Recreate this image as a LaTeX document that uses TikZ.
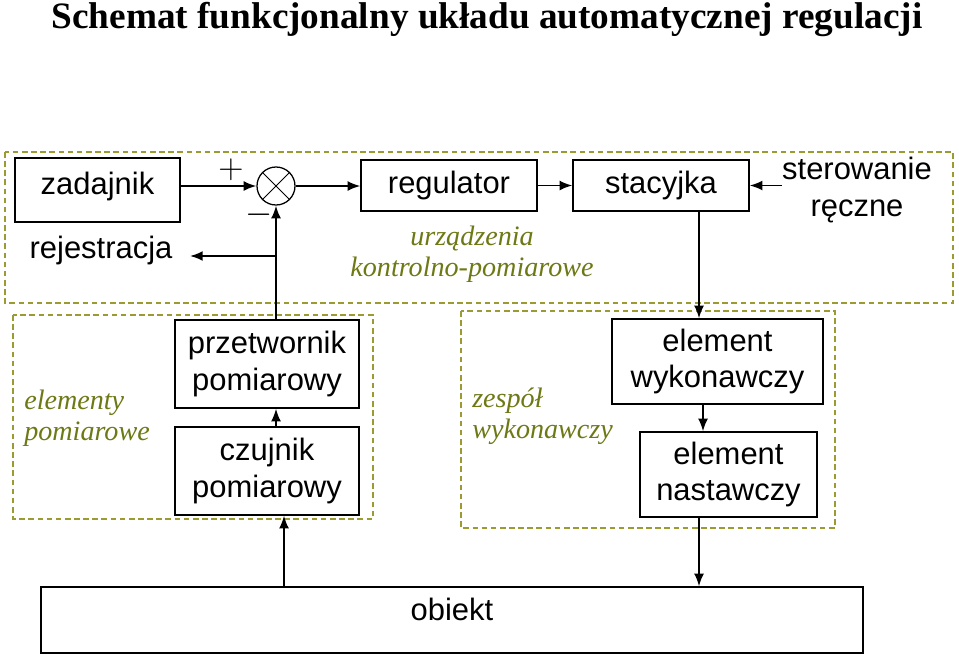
\documentclass[tikz,border=0pt]{standalone}
\usepackage{fontspec}
\setmainfont{Liberation Serif}
\setsansfont{Liberation Sans}
\usetikzlibrary{arrows.meta}

\definecolor{oliwka}{RGB}{155,155,50}
\definecolor{oliwkatxt}{RGB}{110,120,20}

\begin{document}
\begin{tikzpicture}[x=0.025cm, y=-0.025cm,
    blok/.style={draw, line width=0.9pt, font=\sffamily\fontsize{22}{26}\selectfont, align=center, inner sep=0pt},
    grupa/.style={draw=oliwka, line width=0.9pt, dash pattern=on 4pt off 2.5pt},
    opis/.style={text=oliwkatxt, font=\itshape\fontsize{20}{22}\selectfont, inner sep=0pt},
    strz/.style={line width=1.3pt, -{Latex[length=9pt,width=7pt]}}]

    \useasboundingbox (0,0) rectangle (959,658);

    % tytul
    \node (tytul) at (487,19) {\bfseries\fontsize{26.5}{30}\selectfont Schemat funkcjonalny układu automatycznej regulacji};

    % grupy (ramki przerywane)
    \draw[grupa] (5,152) rectangle (953,303);
    \draw[grupa] (13,315) rectangle (373,519);
    \draw[grupa] (461,311) rectangle (835,528);
    \node[opis, align=center] (urz) at (472,254) {urządzenia\\kontrolno-pomiarowe};
    \node[opis, align=left, anchor=west] (elp) at (24,418) {elementy\\pomiarowe};
    \node[opis, align=left, anchor=west] (zes) at (472,416) {zespół\\wykonawczy};

    % bloki
    \node[blok, minimum width=4.125cm, minimum height=1.6cm, text depth=0.35cm] (zad) at (97.5,190) {zadajnik};
    \node[blok, minimum width=4.4cm, minimum height=1.275cm] (reg) at (449,185.5) {regulator};
    \node[blok, minimum width=4.4cm, minimum height=1.275cm] (stac) at (661,185.5) {stacyjka};
    \node[blok, minimum width=4.6cm, minimum height=2.2cm] (przet) at (267,364) {przetwornik\\pomiarowy};
    \node[blok, minimum width=4.6cm, minimum height=2.2cm] (czuj) at (267,471) {czujnik\\pomiarowy};
    \node[blok, minimum width=5.275cm, minimum height=2.125cm] (wyk) at (717.5,361.5) {element\\wykonawczy};
    \node[blok, minimum width=4.425cm, minimum height=2.125cm] (nast) at (728.5,474.5) {element\\nastawczy};
    \node[blok, minimum width=20.55cm, minimum height=1.65cm, text depth=0.55cm] (obiekt) at (452,620) {obiekt};

    % teksty bez ramek
    \node[font=\sffamily\fontsize{22}{26}\selectfont, inner sep=0pt] (rej) at (101,250) {rejestracja};
    \node[font=\sffamily\fontsize{22}{26}\selectfont, align=center, inner sep=0pt] (ster) at (857,190) {sterowanie\\ręczne};

    % wezel sumujacy
    \node[draw, circle, line width=0.9pt, minimum size=0.95cm, inner sep=0pt] (sum) at (276,186) {};
    \draw[line width=0.6pt] (sum.45) -- (sum.225) (sum.135) -- (sum.-45);
    \node[font=\fontsize{24}{24}\selectfont] (plus) at (231,170) {$+$};
    \node[font=\fontsize{24}{24}\selectfont] (minus) at (259,215) {$-$};

    % polaczenia
    \coordinate (odg) at (276,256);
    \coordinate (kol) at (699,0);
    \draw[strz] (zad.east |- sum) -- (sum.west);
    \draw[strz] (sum.east) -- (reg.west |- sum);
    \draw[strz] (reg.east) -- (stac.west);
    \draw[strz] (ster.west |- stac) -- (stac.east);
    \draw[strz] (przet.north -| sum) -- (sum.south);
    \draw[strz] (odg) -- (190,256);
    \draw[strz] (czuj.north -| sum) -- (przet.south -| sum);
    \draw[strz] (284,587) -- (czuj.south -| 284,0);
    \draw[strz] (stac.south -| kol) -- (wyk.north -| kol);
    \draw[strz] (wyk.south -| 703,0) -- (nast.north -| 703,0);
    \draw[strz] (nast.south -| kol) -- (obiekt.north -| kol);

\end{tikzpicture}
\end{document}
